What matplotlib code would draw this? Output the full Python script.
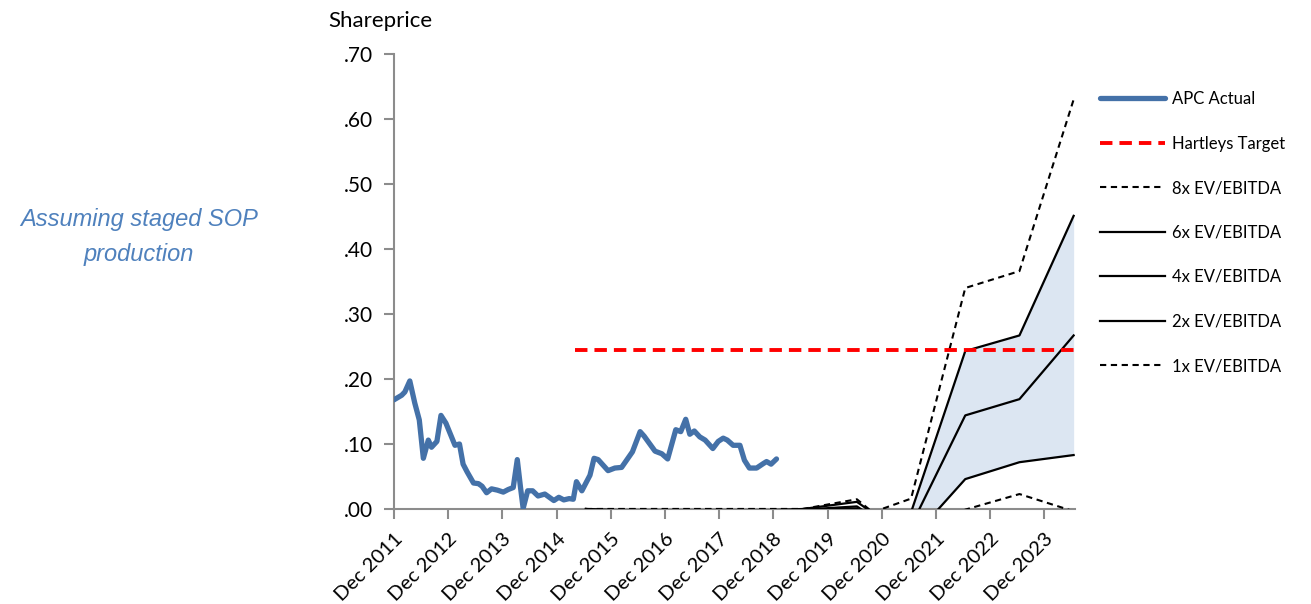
import matplotlib

matplotlib.use("Agg")
import matplotlib.pyplot as plt
from matplotlib.ticker import FixedLocator, FuncFormatter

# APC share price, months after Dec 2011
apc_month = [0, 1.7, 2.4, 3.5, 4.6, 5.6, 6.5, 7.6, 8.3, 9.5,
             10.4, 11.5, 13.5, 14.5, 15.3, 16.2, 17.6, 18.7, 19.5, 20.5,
             21.6, 22.9, 24.2, 25.3, 26.4, 27.3, 28.0, 28.6, 29.6, 30.7,
             31.9, 33.4, 34.2, 35.4, 36.5, 37.6, 38.8, 39.7, 40.4, 41.6,
             43.4, 44.3, 45.2, 47.4, 48.9, 50.4, 51.5, 52.8, 54.5, 55.4,
             57.8, 59.3, 60.6, 62.4, 63.5, 64.6, 65.5, 66.5, 67.7, 68.9,
             70.6, 71.8, 72.9, 73.8, 75.1, 76.6, 77.6, 78.7, 80.3, 81.8,
             82.5, 83.5, 84.7]
apc_price = [0.168, 0.175, 0.180, 0.197, 0.163, 0.137, 0.078, 0.106, 0.095, 0.104,
             0.144, 0.132, 0.098, 0.100, 0.069, 0.057, 0.040, 0.039, 0.035, 0.025,
             0.031, 0.029, 0.026, 0.030, 0.033, 0.076, 0.034, 0.001, 0.028, 0.028,
             0.020, 0.023, 0.019, 0.013, 0.018, 0.014, 0.016, 0.015, 0.042, 0.028,
             0.052, 0.078, 0.076, 0.059, 0.063, 0.064, 0.075, 0.088, 0.119, 0.112,
             0.089, 0.085, 0.077, 0.122, 0.119, 0.138, 0.115, 0.120, 0.111, 0.106,
             0.093, 0.104, 0.109, 0.106, 0.098, 0.098, 0.075, 0.063, 0.063, 0.070,
             0.073, 0.069, 0.077]

# Broker target
target_start = 40
target_price = 0.245

# Valuation at EV/EBITDA multiples (June year ends)
proj_month = [42.5, 54.5, 66.5, 78.5, 90.5, 102.5, 106.0, 114.5, 126.5, 138.5, 150.5]
ev8 = [0, 0, 0, 0, 0, 0.015, -0.005, 0.016, 0.340, 0.366, 0.630]
ev6 = [0, -0.003, -0.003, -0.003, 0, 0.011, -0.006, -0.005, 0.243, 0.267, 0.451]
ev4 = [0, -0.006, -0.006, -0.006, -0.001, 0.004, -0.012, -0.026, 0.144, 0.169, 0.267]
ev2 = [0, -0.009, -0.009, -0.009, -0.002, 0.001, -0.018, -0.047, 0.046, 0.072, 0.083]
ev1 = [0, 0, 0, 0, 0, -0.001, -0.020, -0.058, -0.001, 0.023, -0.0035]

tick_months = list(range(0, 145, 12))
tick_labels = [f"Dec {2011 + i}" for i in range(len(tick_months))]

FONT = ["Lato", "DejaVu Sans"]
plt.rcParams["font.family"] = FONT

fig = plt.figure(figsize=(13.11, 6.04), dpi=100)
ax = fig.add_axes([394 / 1311, 1 - 509 / 604, (1075 - 394) / 1311, (509 - 54) / 604])

# shaded band between 2x and 6x from FY21 on
band = proj_month.index(114.5)
ax.fill_between(proj_month[band:], ev2[band:], ev6[band:], color="#dce6f2", lw=0, zorder=1)

ax.plot(apc_month, apc_price, color="#4471a8", lw=3.8, solid_capstyle="round",
        solid_joinstyle="round", label="APC Actual", zorder=5)
ax.plot([target_start, proj_month[-1]], [target_price, target_price], color="#ff0000",
        lw=2.8, dashes=(3.2, 1.8), label="Hartleys Target", zorder=4)
ax.plot(proj_month, ev8, color="black", lw=1.5, dashes=(3, 2.2), label="8x EV/EBITDA", zorder=3)
ax.plot(proj_month, ev6, color="black", lw=1.6, label="6x EV/EBITDA", zorder=3)
ax.plot(proj_month, ev4, color="black", lw=1.6, label="4x EV/EBITDA", zorder=3)
ax.plot(proj_month, ev2, color="black", lw=1.6, label="2x EV/EBITDA", zorder=3)
ax.plot(proj_month, ev1, color="black", lw=1.5, dashes=(3, 2.2), label="1x EV/EBITDA", zorder=3)

ax.set_xlim(0, 150.8)
ax.set_ylim(0, 0.70)

for side in ("top", "right"):
    ax.spines[side].set_visible(False)
for side in ("left", "bottom"):
    ax.spines[side].set_color("#8c8c8c")
    ax.spines[side].set_linewidth(1.5)

ax.yaxis.set_major_locator(FixedLocator([i / 10 for i in range(8)]))
ax.yaxis.set_major_formatter(FuncFormatter(lambda v, _: f"{v:.2f}".lstrip("0")))
ax.xaxis.set_major_locator(FixedLocator(tick_months))
ax.set_xticklabels(tick_labels, rotation=45, ha="right", va="top", rotation_mode="anchor")
ax.tick_params(axis="both", colors="#8c8c8c", width=1.5, length=7, labelcolor="black")
ax.tick_params(axis="y", pad=8, labelsize=15)
ax.tick_params(axis="x", pad=8, labelsize=14.5)

fig.text(328 / 1311, 1 - 21 / 604, "Shareprice", fontsize=16, va="center", ha="left")

fig.text(139 / 1311, 1 - 237 / 604, "Assuming staged SOP\nproduction", color="#4f81bd",
         fontsize=17, style="italic", family=["Liberation Sans", "DejaVu Sans"],
         ha="center", va="center", linespacing=1.7)

fig.legend(loc="upper left", bbox_to_anchor=(1100 / 1311, 1 - 91 / 604), frameon=False,
           fontsize=12, handlelength=3.9, handletextpad=0.4, labelspacing=1.71,
           borderpad=0, borderaxespad=0)

fig.savefig("out.png", dpi=100)
